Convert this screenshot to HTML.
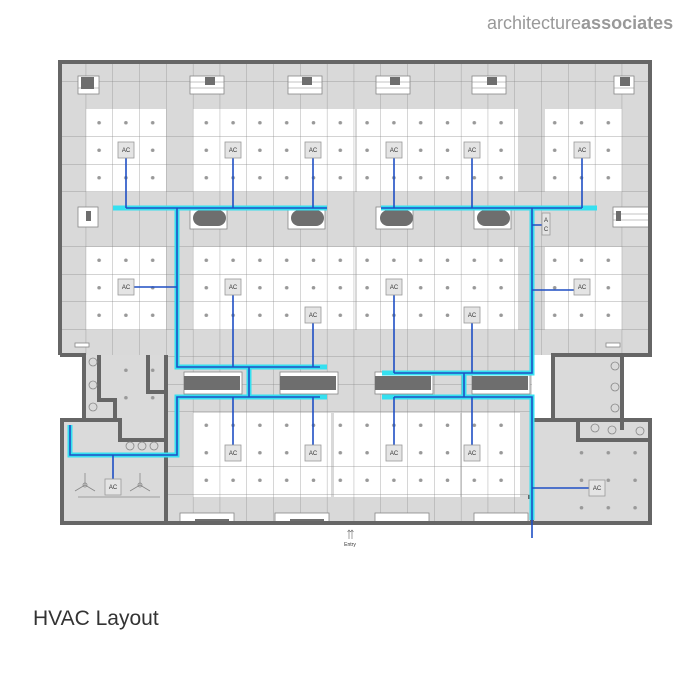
<!DOCTYPE html>
<html><head><meta charset="utf-8"><style>
html,body{margin:0;padding:0;background:#fff;width:700px;height:700px;overflow:hidden}
svg{display:block}
</style></head><body>
<svg width="700" height="700" viewBox="0 0 700 700" xmlns="http://www.w3.org/2000/svg">
<defs>
<pattern id="gl" patternUnits="userSpaceOnUse" x="5.3" y="-1" width="26.8" height="27.5">
<path d="M0 0H26.8M0 0V27.5" stroke="#8a8a8a" stroke-width="0.7" fill="none"/>
</pattern>
<pattern id="dt" patternUnits="userSpaceOnUse" x="5.3" y="-1" width="26.8" height="27.5">
<circle cx="13.4" cy="13.75" r="1.8" fill="#999"/>
</pattern>
</defs>
<text x="487" y="29" font-family="Liberation Sans, sans-serif" font-size="18" fill="#999">architecture<tspan font-weight="bold">associates</tspan></text>
<rect x="60" y="62" width="590" height="293" fill="#d9d9d9"/>
<rect x="166" y="355" width="366" height="168" fill="#d9d9d9"/>
<rect x="84" y="355" width="82" height="68" fill="#dadada"/>
<rect x="62" y="420" width="104" height="103" fill="#dadada"/>
<rect x="553" y="355" width="69" height="68" fill="#dadada"/>
<rect x="532" y="420" width="118" height="103" fill="#dadada"/>
<g fill="#fff">
<rect x="86" y="109" width="80" height="83"/><rect x="193" y="109" width="162" height="83"/><rect x="357" y="109" width="161" height="83"/><rect x="545" y="109" width="77" height="83"/>
<rect x="86" y="247" width="80" height="83"/><rect x="193" y="247" width="162" height="83"/><rect x="357" y="247" width="161" height="83"/><rect x="545" y="247" width="77" height="83"/>
<rect x="193" y="413" width="138" height="84"/><rect x="334" y="413" width="126" height="84"/><rect x="462" y="413" width="58" height="84"/>
</g>
<rect x="60" y="62" width="590" height="293" fill="url(#gl)"/>
<rect x="166" y="355" width="366" height="168" fill="url(#gl)"/>
<g fill="url(#dt)">
<rect x="86" y="109" width="80" height="83"/><rect x="193" y="109" width="162" height="83"/><rect x="357" y="109" width="161" height="83"/><rect x="545" y="109" width="77" height="83"/>
<rect x="86" y="247" width="80" height="83"/><rect x="193" y="247" width="162" height="83"/><rect x="357" y="247" width="161" height="83"/><rect x="545" y="247" width="77" height="83"/>
<rect x="193" y="413" width="138" height="84"/><rect x="334" y="413" width="126" height="84"/><rect x="462" y="413" width="58" height="84"/>
<rect x="560" y="440" width="80" height="80"/>
<rect x="115" y="365" width="50" height="55"/>
</g>
<g fill="#fff" stroke="#888" stroke-width="0.8">
<rect x="78" y="76" width="21" height="18"/><rect x="190" y="76" width="34" height="18"/><rect x="288" y="76" width="34" height="18"/><rect x="376" y="76" width="34" height="18"/><rect x="472" y="76" width="34" height="18"/><rect x="614" y="76" width="20" height="18"/>
<rect x="78" y="207" width="20" height="20"/><rect x="613" y="207" width="37" height="20"/>
<rect x="190" y="207" width="37" height="22"/><rect x="288" y="207" width="37" height="22"/><rect x="376" y="207" width="37" height="22"/><rect x="474" y="207" width="37" height="22"/>
<rect x="184" y="372" width="58" height="22"/><rect x="280" y="372" width="58" height="22"/><rect x="375" y="372" width="58" height="22"/><rect x="472" y="372" width="58" height="22"/>
<rect x="180" y="513" width="54" height="10"/><rect x="275" y="513" width="54" height="10"/><rect x="375" y="513" width="54" height="10"/><rect x="474" y="513" width="54" height="10"/>
<rect x="606" y="343" width="14" height="4"/><rect x="75" y="343" width="14" height="4"/>
</g>
<g stroke="#888" stroke-width="0.6">
<path d="M190 82H224M190 88H224M288 82H322M288 88H322M376 82H410M376 88H410M472 82H506M472 88H506M78 88H99M614 88H634M613 214H650M613 220H650"/>
</g>
<g fill="#6e6e6e">
<rect x="81" y="77" width="13" height="12"/><rect x="205" y="77" width="10" height="8"/><rect x="302" y="77" width="10" height="8"/><rect x="390" y="77" width="10" height="8"/><rect x="487" y="77" width="10" height="8"/><rect x="620" y="77" width="10" height="9"/>
<rect x="86" y="211" width="5" height="10"/><rect x="616" y="211" width="5" height="10"/>
<rect x="193" y="210" width="33" height="16" rx="8"/><rect x="291" y="210" width="33" height="16" rx="8"/><rect x="380" y="210" width="33" height="16" rx="8"/><rect x="477" y="210" width="33" height="16" rx="8"/>
<rect x="184" y="376" width="56" height="14"/><rect x="280" y="376" width="56" height="14"/><rect x="375" y="376" width="56" height="14"/><rect x="472" y="376" width="56" height="14"/>
<rect x="195" y="519" width="34" height="4"/><rect x="290" y="519" width="34" height="4"/>
</g>
<g fill="none" stroke="#666" stroke-width="4">
<path d="M60 355V62H650V355H622"/>
<path d="M60 355H84V420H62V523H166V355"/>
<path d="M84 420H120V440H166"/>
<path d="M166 355V523H532V420"/>
<path d="M553 420V355H622V420"/>
<path d="M532 420H650V523H532"/>
<path d="M622 420V430"/>
<path d="M578 420V440H650"/>
<path d="M99 355V400H115V420"/>
<path d="M148 355V392H166"/>
<path d="M528 497H532V523"/>
</g>
<g fill="none" stroke="#888" stroke-width="0.8">
<path d="M85 485V473M85 485L75 491M85 485L95 491"/>
<path d="M140 485V473M140 485L130 491M140 485L150 491"/>
<circle cx="85" cy="485" r="2"/><circle cx="140" cy="485" r="2"/>
<path d="M78 497H160"/>
<circle cx="130" cy="446" r="4"/><circle cx="142" cy="446" r="4"/><circle cx="154" cy="446" r="4"/>
<circle cx="93" cy="362" r="4"/><circle cx="93" cy="385" r="4"/><circle cx="93" cy="407" r="4"/>
<circle cx="615" cy="366" r="4"/><circle cx="615" cy="387" r="4"/><circle cx="615" cy="408" r="4"/>
<circle cx="595" cy="428" r="4"/><circle cx="612" cy="430" r="4"/><circle cx="640" cy="431" r="4"/>
</g>
<g fill="none" stroke="#35e0f0" stroke-width="5">
<path d="M113 208H327M381 208H597"/>
<path d="M177 208V367H327M249 367V397M327 397H177V455H70V425"/>
<path d="M532 208V373H382M464 373V397M382 397H532V520"/>
</g>
<g fill="none" stroke="#1f4fc4" stroke-width="1.6">
<path d="M126 208H327M381 208H582"/>
<path d="M177 208V367H320M249 367V397M320 397H177V455H70V425"/>
<path d="M532 208V373H394M464 373V397M394 397H532V538"/>
<path d="M126 158V208M233 158V208M313 158V208M394 158V208M472 158V208M582 158V208"/>
<path d="M134 287H177M233 295V367M313 323V367M394 295V373M472 323V373M574 290H532"/>
<path d="M233 397V445M313 397V445M394 397V445M472 397V445M113 455V479M589 488H532M532 225H542"/>
</g>
<g font-family="Liberation Sans, sans-serif" font-size="6" fill="#333" text-anchor="middle">
<g fill="#e4e4e4" stroke="#999" stroke-width="0.8">
<rect x="118" y="142" width="16" height="16"/><rect x="225" y="142" width="16" height="16"/><rect x="305" y="142" width="16" height="16"/><rect x="386" y="142" width="16" height="16"/><rect x="464" y="142" width="16" height="16"/><rect x="574" y="142" width="16" height="16"/>
<rect x="118" y="279" width="16" height="16"/><rect x="225" y="279" width="16" height="16"/><rect x="305" y="307" width="16" height="16"/><rect x="386" y="279" width="16" height="16"/><rect x="464" y="307" width="16" height="16"/><rect x="574" y="279" width="16" height="16"/>
<rect x="225" y="445" width="16" height="16"/><rect x="305" y="445" width="16" height="16"/><rect x="386" y="445" width="16" height="16"/><rect x="464" y="445" width="16" height="16"/><rect x="105" y="479" width="16" height="16"/><rect x="589" y="480" width="16" height="16"/>
<rect x="542" y="213" width="8" height="22"/>
</g>
<text x="126" y="152">AC</text><text x="233" y="152">AC</text><text x="313" y="152">AC</text><text x="394" y="152">AC</text><text x="472" y="152">AC</text><text x="582" y="152">AC</text>
<text x="126" y="289">AC</text><text x="233" y="289">AC</text><text x="313" y="317">AC</text><text x="394" y="289">AC</text><text x="472" y="317">AC</text><text x="582" y="289">AC</text>
<text x="233" y="455">AC</text><text x="313" y="455">AC</text><text x="394" y="455">AC</text><text x="472" y="455">AC</text><text x="113" y="489">AC</text><text x="597" y="490">AC</text>
<text x="546" y="222">A</text><text x="546" y="231">C</text>
<text x="350" y="546" font-size="5">Entry</text>
</g>
<path d="M349 539V530M352 539V530M347.5 532L349 530L350.5 532M350.5 532L352 530L353.5 532" stroke="#666" stroke-width="0.6" fill="none"/>
<text x="33" y="625" font-family="Liberation Sans, sans-serif" font-size="21" fill="#333">HVAC Layout</text>
</svg>
</body></html>
